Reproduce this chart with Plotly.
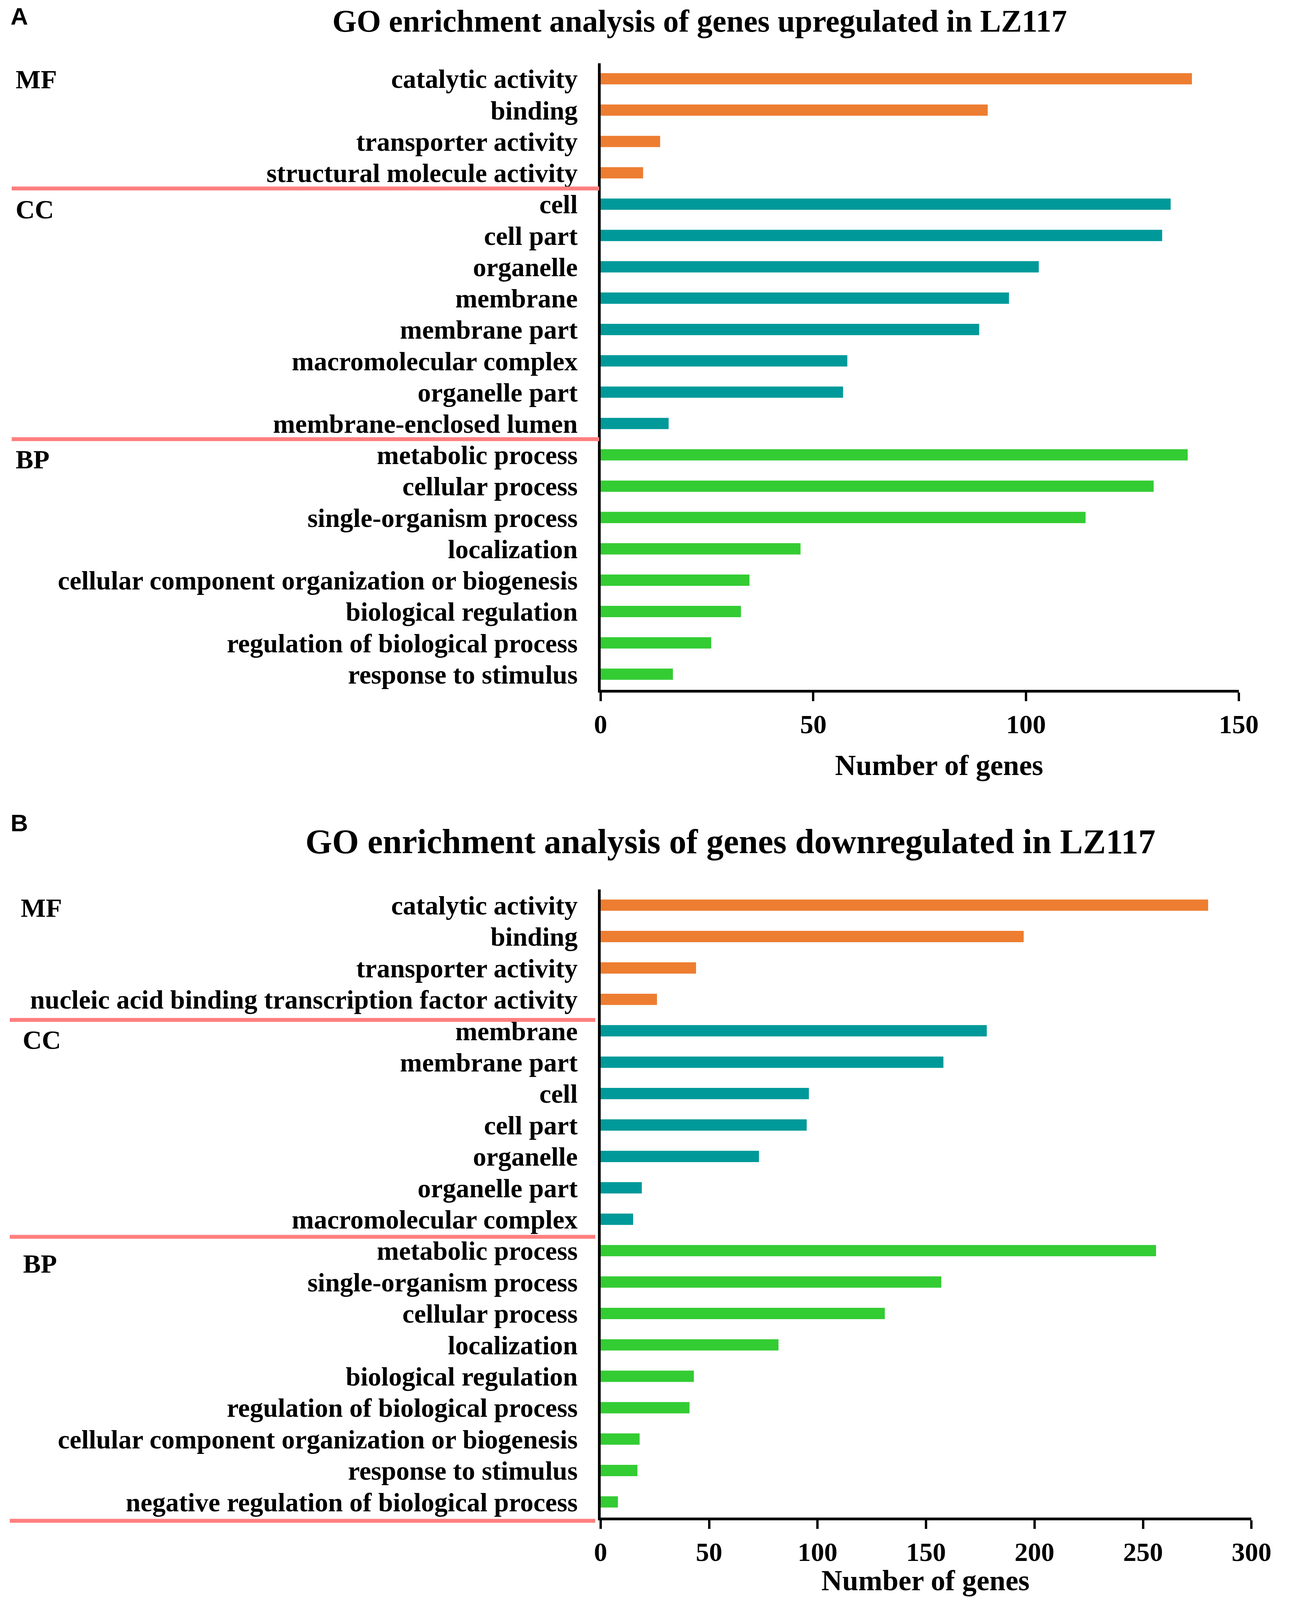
import plotly.graph_objects as go

# ---------------- data ----------------
up_labels = ["catalytic activity", "binding", "transporter activity", "structural molecule activity",
             "cell", "cell part", "organelle", "membrane", "membrane part", "macromolecular complex",
             "organelle part", "membrane-enclosed lumen",
             "metabolic process", "cellular process", "single-organism process", "localization",
             "cellular component organization or biogenesis", "biological regulation",
             "regulation of biological process", "response to stimulus"]
up_values = [139, 91, 14, 10,
             134, 132, 103, 96, 89, 58, 57, 16,
             138, 130, 114, 47, 35, 33, 26, 17]
up_groups = ["MF"] * 4 + ["CC"] * 8 + ["BP"] * 8

down_labels = ["catalytic activity", "binding", "transporter activity",
               "nucleic acid binding transcription factor activity",
               "membrane", "membrane part", "cell", "cell part", "organelle", "organelle part",
               "macromolecular complex",
               "metabolic process", "single-organism process", "cellular process", "localization",
               "biological regulation", "regulation of biological process",
               "cellular component organization or biogenesis", "response to stimulus",
               "negative regulation of biological process"]
down_values = [280, 195, 44, 26,
               178, 158, 96, 95, 73, 19, 15,
               256, 157, 131, 82, 43, 41, 18, 17, 8]
down_groups = ["MF"] * 4 + ["CC"] * 7 + ["BP"] * 9

up_ticks = [0, 50, 100, 150]
down_ticks = [0, 50, 100, 150, 200, 250, 300]

title_up = "GO enrichment analysis of genes upregulated in LZ117"
title_down = "GO enrichment analysis of genes downregulated in LZ117"
xlabel = "Number of genes"

group_colors = {"MF": "#ED7D31", "CC": "#009999", "BP": "#33CC33"}
SEP = "#FF7F7F"
SERIF = "Liberation Serif"

fig = go.Figure()

fig.add_trace(go.Bar(
    x=up_values, y=up_labels, orientation="h",
    marker=dict(color=[group_colors[g] for g in up_groups], line=dict(width=0)),
    width=0.36, xaxis="x", yaxis="y", showlegend=False,
))
fig.add_trace(go.Bar(
    x=down_values, y=down_labels, orientation="h",
    marker=dict(color=[group_colors[g] for g in down_groups], line=dict(width=0)),
    width=0.36, xaxis="x2", yaxis="y2", showlegend=False,
))

tickfont = dict(family=SERIF, size=68, color="black", weight="bold")

xa_common = dict(
    showline=True, linecolor="black", linewidth=7, ticks="outside", ticklen=22,
    tickwidth=6, tickcolor="black", showgrid=False, zeroline=False,
    tickfont=tickfont, fixedrange=True,
)
ya_common = dict(
    type="category", showline=True, linecolor="black", linewidth=7, ticks="",
    showgrid=False, zeroline=False, tickfont=tickfont, ticklabelstandoff=38,
    tickmode="array",
)

fig.update_layout(
    autosize=True,
    margin=dict(l=0, r=0, t=0, b=0, pad=0),
    paper_bgcolor="white", plot_bgcolor="white",
    bargap=0.64,
    xaxis=dict(domain=[0.4666, 0.9706], range=[0, 150], tickvals=up_ticks,
               anchor="y", **xa_common),
    yaxis=dict(domain=[0.56911, 0.96236], range=[19.5, -0.5], anchor="x",
               tickvals=up_labels, ticktext=up_labels, **ya_common),
    xaxis2=dict(domain=[0.4666, 0.9807], range=[0, 300], tickvals=down_ticks,
                anchor="y2", **xa_common),
    yaxis2=dict(domain=[0.04973, 0.44389], range=[19.5, -0.5], anchor="x2",
                tickvals=down_labels, ticktext=down_labels, **ya_common),
)

ann = []
# panel letters
ann.append(dict(text="A", x=0.0, y=0.9918, xref="paper", yref="paper", xanchor="left",
                yanchor="middle", showarrow=False,
                font=dict(family="Liberation Sans", size=62, color="black", weight="bold")))
ann.append(dict(text="B", x=0.0, y=0.4856, xref="paper", yref="paper", xanchor="left",
                yanchor="middle", showarrow=False,
                font=dict(family="Liberation Sans", size=62, color="black", weight="bold")))
# titles
ann.append(dict(text=title_up, x=0.5449, y=1.0, xref="paper", yref="paper",
                xanchor="center", yanchor="top", showarrow=False,
                font=dict(family=SERIF, size=80, color="black", weight="bold")))
ann.append(dict(text=title_down, x=0.5692, y=0.4740, xref="paper", yref="paper",
                xanchor="center", yanchor="middle", showarrow=False,
                font=dict(family=SERIF, size=88, color="black", weight="bold")))
# axis titles
ann.append(dict(text=xlabel, x=0.734, y=0.5217, xref="paper", yref="paper",
                xanchor="center", yanchor="middle", showarrow=False,
                font=dict(family=SERIF, size=74, color="black", weight="bold")))
ann.append(dict(text=xlabel, x=0.7232, y=0.0102, xref="paper", yref="paper",
                xanchor="center", yanchor="middle", showarrow=False,
                font=dict(family=SERIF, size=74, color="black", weight="bold")))
# group labels
grp_font = dict(family=SERIF, size=68, color="black", weight="bold")
for txt, yy in [("MF", 0.02), ("CC", 4.17), ("BP", 12.15)]:
    ann.append(dict(text=txt, x=0.004, y=yy, xref="paper", yref="y", xanchor="left",
                    yanchor="middle", showarrow=False, font=grp_font))
for txt, xx, yy in [("MF", 0.008, 0.08), ("CC", 0.0095, 4.29), ("BP", 0.0098, 11.41)]:
    ann.append(dict(text=txt, x=xx, y=yy, xref="paper", yref="y2", xanchor="left",
                    yanchor="middle", showarrow=False, font=grp_font))
fig.update_layout(annotations=ann)

shapes = []
for yy in [3.5, 11.5]:
    shapes.append(dict(type="line", xref="paper", yref="y", x0=0.0015, x1=0.4656,
                       y0=yy, y1=yy, line=dict(color=SEP, width=10)))
for yy in [3.655, 10.56]:
    shapes.append(dict(type="line", xref="paper", yref="y2", x0=0.0, x1=0.4624,
                       y0=yy, y1=yy, line=dict(color=SEP, width=10)))
# closing separator just below panel B's plotting area
shapes.append(dict(type="line", xref="paper", yref="y2 domain", x0=0.0, x1=0.4624,
                   y0=-0.005, y1=-0.005, line=dict(color=SEP, width=10)))
fig.update_layout(shapes=shapes)

fig.write_html("out.html",
               default_width="calc(100vw - 16px)",
               default_height="calc(100vh - 16px)",
               config={"responsive": True, "displayModeBar": False})
